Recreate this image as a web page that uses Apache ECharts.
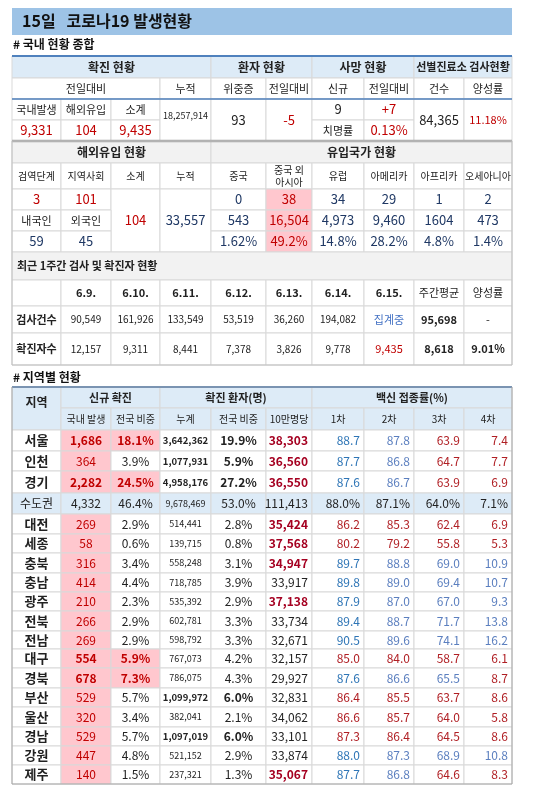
<!DOCTYPE html>
<html>
<head>
<meta charset="utf-8">
<script src="https://cdn.jsdelivr.net/npm/echarts@6/dist/echarts.min.js"></script>
<style>html,body{margin:0;padding:0;background:#fff}#main{width:550px;height:797px}</style>
</head>
<body>
<div id="main"></div>
<script>
// ---- data ----
const titleText = '15일   코로나19 발생현황';
const newCaseLabels = ['국내발생', '해외유입', '소계'];
const newCases = [9331, 104, 9435];
const cumulativeCases = 18257914;
const critical = 93, criticalDiff = -5;
const deathsNew = 9, deathsDiff = 7, fatality = '0.13%';
const testsClinic = 84365, clinicPositive = '11.18%';

const importHeaders = ['검역단계', '지역사회', '소계', '누적'];
const importValues = [3, 101];
const importSubtotal = 104, importCumulative = 33557;
const importResident = [59, 45];
const originHeaders = ['중국', '중국 외\n아시아', '유럽', '아메리카', '아프리카', '오세아니아'];
const originToday = [0, 38, 34, 29, 1, 2];
const originCumulative = ['543', '16,504', '4,973', '9,460', '1604', '473'];
const originShare = ['1.62%', '49.2%', '14.8%', '28.2%', '4.8%', '1.4%'];

const weekDates = ['6.9.', '6.10.', '6.11.', '6.12.', '6.13.', '6.14.', '6.15.'];
const weekTests = [90549, 161926, 133549, 53519, 36260, 194082, null];
const weekCases = [12157, 9311, 8441, 7378, 3826, 9778, 9435];
const weekTestsAvg = 95698, weekCasesAvg = 8618, weekPositive = '9.01%';

const regions = ['서울', '인천', '경기', '수도권', '대전', '세종', '충북', '충남', '광주', '전북', '전남', '대구', '경북', '부산', '울산', '경남', '강원', '제주'];
const regionNew = [1686, 364, 2282, 4332, 269, 58, 316, 414, 210, 266, 269, 554, 678, 529, 320, 529, 447, 140];
const regionShare = [18.1, 3.9, 24.5, 46.4, 2.9, 0.6, 3.4, 4.4, 2.3, 2.9, 2.9, 5.9, 7.3, 5.7, 3.4, 5.7, 4.8, 1.5];
const regionCum = [3642362, 1077931, 4958176, 9678469, 514441, 139715, 558248, 718785, 535392, 602781, 598792, 767073, 786075, 1099972, 382041, 1097019, 521152, 237321];
const regionCumShare = [19.9, 5.9, 27.2, 53.0, 2.8, 0.8, 3.1, 3.9, 2.9, 3.3, 3.3, 4.2, 4.3, 6.0, 2.1, 6.0, 2.9, 1.3];
const per100k = [38303, 36560, 36550, 111413, 35424, 37568, 34947, 33917, 37138, 33734, 32671, 32157, 29927, 32831, 34062, 33101, 33874, 35067];
const vax1 = [88.7, 87.7, 87.6, 88.0, 86.2, 80.2, 89.7, 89.8, 87.9, 89.4, 90.5, 85.0, 87.6, 86.4, 86.6, 87.3, 88.0, 87.7];
const vax2 = [87.8, 86.8, 86.7, 87.1, 85.3, 79.2, 88.8, 89.0, 87.0, 88.7, 89.6, 84.0, 86.6, 85.5, 85.7, 86.4, 87.3, 86.8];
const vax3 = [63.9, 64.7, 63.9, 64.0, 62.4, 55.8, 69.0, 69.4, 67.0, 71.7, 74.1, 58.7, 65.5, 63.7, 64.0, 64.5, 68.9, 64.6];
const vax4 = [7.4, 7.7, 6.9, 7.1, 6.9, 5.3, 10.9, 10.7, 9.3, 13.8, 16.2, 6.1, 8.7, 8.6, 5.8, 8.6, 10.8, 8.3];
const vaxNational = [87.5, 86.5, 65.0, 9.0];
const per100kNational = 34500;
const metroIndex = 3;

// ---- layout ----
const FONT = '"Noto Sans CJK KR", "Noto Sans", sans-serif';
const X = [12, 61, 111, 160, 211, 266, 312, 364, 414, 464, 512];
const RED = '#c00000', NAVY = '#1f3864', BLUE = '#2e75b6', BLUE2 = '#5b7fbf', DARKRED = '#a50021';
const HEAD = '#ddebf7', GRAY = '#f2f2f2', PINK = '#ffc7ce', LINE = '#d9d9d9';
const fmt = v => v.toLocaleString('en-US');
const g = [];

function cell(c0, c1, y0, y1, text, o = {}) {
    const x0 = X[c0], x1 = X[c1];
    g.push({ type: 'rect', shape: { x: x0, y: y0, width: x1 - x0, height: y1 - y0 },
        style: { fill: o.bg || '#fff', stroke: o.stroke || LINE, lineWidth: 1 } });
    if (text === undefined || text === null || text === '') return;
    const align = o.align || 'center';
    const tx = align === 'right' ? x1 - 4 : align === 'left' ? x0 + (o.pad || 8) : (x0 + x1) / 2;
    g.push({ type: 'text', z: 2, style: {
        text: String(text), x: tx, y: (y0 + y1) / 2 + (o.dy || 0), align: align, verticalAlign: 'middle',
        font: `${o.bold ? 'bold ' : ''}${o.size || 12}px ${FONT}`, fill: o.color || '#222', lineHeight: 12 } });
}
function hline(x0, x1, y, color, w) {
    g.push({ type: 'line', z: 3, shape: { x1: x0, y1: y, x2: x1, y2: y }, style: { stroke: color, lineWidth: w } });
}
function label(x, y, text, size, bold) {
    g.push({ type: 'text', style: { text, x, y, verticalAlign: 'middle', font: `${bold ? 'bold ' : ''}${size}px ${FONT}`, fill: '#111' } });
}

// title
g.push({ type: 'rect', shape: { x: 12, y: 8, width: 500, height: 27 }, style: { fill: '#9dc3e6' } });
label(22, 21, titleText, 16, true);
label(13, 44, '# 국내 현황 종합', 12, true);

// section 1
let y = [56, 78, 99, 120, 141];
cell(0, 4, y[0], y[1], '확진 현황', { bg: HEAD, bold: true });
cell(4, 6, y[0], y[1], '환자 현황', { bg: HEAD, bold: true });
cell(6, 8, y[0], y[1], '사망 현황', { bg: HEAD, bold: true });
cell(8, 10, y[0], y[1], '선별진료소 검사현황', { bg: HEAD, bold: true, size: 11 });
cell(0, 3, y[1], y[2], '전일대비', { size: 11 });
['누적', '위중증', '전일대비', '신규', '전일대비', '건수', '양성률'].forEach((t, i) => cell(i + 3, i + 4, y[1], y[2], t, { size: 11 }));
newCaseLabels.forEach((t, i) => cell(i, i + 1, y[2], y[3], t, { size: 11 }));
newCases.forEach((v, i) => cell(i, i + 1, y[3], y[4], fmt(v), { color: RED, size: 13 }));
cell(3, 4, y[2], y[4], fmt(cumulativeCases), { size: 9, dy: -4 });
cell(4, 5, y[2], y[4], critical, { size: 13 });
cell(5, 6, y[2], y[4], criticalDiff, { size: 13, color: RED });
cell(6, 7, y[2], y[3], deathsNew, { size: 13 });
cell(7, 8, y[2], y[3], '+' + deathsDiff, { size: 13, color: RED });
cell(6, 7, y[3], y[4], '치명률', { size: 11 });
cell(7, 8, y[3], y[4], fatality, { size: 13, color: RED });
cell(8, 9, y[2], y[4], fmt(testsClinic), { size: 13 });
cell(9, 10, y[2], y[4], clinicPositive, { size: 11, color: RED });
hline(12, 512, y[0], '#4f81bd', 2);
hline(12, 512, y[2], '#4f81bd', 1.5);

// section 2
y = [141, 163, 189, 210, 231, 252];
cell(0, 4, y[0], y[1], '해외유입 현황', { bg: GRAY, bold: true });
cell(4, 10, y[0], y[1], '유입국가 현황', { bg: GRAY, bold: true });
importHeaders.forEach((t, i) => cell(i, i + 1, y[1], y[2], t, { size: 10 }));
originHeaders.forEach((t, i) => cell(i + 4, i + 5, y[1], y[2], t, { size: 10 }));
importValues.forEach((v, i) => cell(i, i + 1, y[2], y[3], v, { color: RED, size: 13 }));
cell(2, 3, y[2], y[5], importSubtotal, { color: RED, size: 13 });
cell(3, 4, y[2], y[5], fmt(importCumulative), { color: NAVY, size: 13 });
const maxOrigin = originToday.indexOf(Math.max(...originToday));
originToday.forEach((v, i) => {
    const hi = i === maxOrigin;
    const o = { size: 13, color: hi ? RED : NAVY, bg: hi ? PINK : '#fff' };
    cell(i + 4, i + 5, y[2], y[3], v, o);
    cell(i + 4, i + 5, y[3], y[4], originCumulative[i], o);
    cell(i + 4, i + 5, y[4], y[5], originShare[i], o);
});
cell(0, 1, y[3], y[4], '내국인', { size: 11 });
cell(1, 2, y[3], y[4], '외국인', { size: 11 });
importResident.forEach((v, i) => cell(i, i + 1, y[4], y[5], v, { color: NAVY, size: 13 }));
hline(12, 512, y[0], '#a6a6a6', 2.5);

// section 3: weekly
y = [252, 280, 306, 333, 365];
cell(0, 10, y[0], y[1], '최근 1주간 검사 및 확진자 현황', { bg: GRAY, bold: true, align: 'left', size: 11, pad: 5 });
cell(0, 1, y[1], y[2], '');
weekDates.forEach((d, i) => cell(i + 1, i + 2, y[1], y[2], d, { bold: true, size: 11 }));
cell(8, 9, y[1], y[2], '주간평균', { size: 11 });
cell(9, 10, y[1], y[2], '양성률', { size: 11 });
cell(0, 1, y[2], y[3], '검사건수', { bold: true, size: 11 });
cell(0, 1, y[3], y[4], '확진자수', { bold: true, size: 11 });
weekDates.forEach((d, i) => {
    const t = weekTests[i];
    cell(i + 1, i + 2, y[2], y[3], t === null ? '집계중' : fmt(t), t === null ? { color: '#4472c4', size: 11 } : { size: 10 });
    const last = i === weekDates.length - 1;
    cell(i + 1, i + 2, y[3], y[4], fmt(weekCases[i]), last ? { color: RED, size: 11 } : { size: 10 });
});
cell(8, 9, y[2], y[3], fmt(weekTestsAvg), { bold: true, size: 11 });
cell(9, 10, y[2], y[3], '-', { size: 11 });
cell(8, 9, y[3], y[4], fmt(weekCasesAvg), { bold: true, size: 11 });
cell(9, 10, y[3], y[4], weekPositive, { bold: true, size: 11 });
g.push({ type: 'rect', z: 3, shape: { x: 12, y: 141, width: 500, height: 224 }, style: { fill: 'none', stroke: '#bfbfbf', lineWidth: 1 } });

// section 4: regions
label(13, 377, '# 지역별 현황', 12, true);
const RY = [430, 451, 471, 493, 514, 534, 553, 573, 592, 611, 631, 649, 668, 688, 707, 727, 746, 765, 784];
cell(0, 1, 387, 430, '지역', { bg: HEAD, bold: true, dy: -6 });
cell(1, 3, 387, 408, '신규 확진', { bg: HEAD, bold: true, size: 11 });
cell(3, 6, 387, 408, '확진 환자(명)', { bg: HEAD, bold: true, size: 11 });
cell(6, 10, 387, 408, '백신 접종률(%)', { bg: HEAD, bold: true, size: 11 });
['국내 발생', '전국 비중', '누계', '전국 비중', '10만명당', '1차', '2차', '3차', '4차'].forEach((t, i) =>
    cell(i + 1, i + 2, 408, 430, t, { bg: HEAD, size: 10 }));
hline(12, 512, 387, '#4f81bd', 2);
const vax = [vax1, vax2, vax3, vax4];
regions.forEach((r, i) => {
    const y0 = RY[i], y1 = RY[i + 1];
    if (i === metroIndex) {
        const o = { bg: HEAD, size: 12 };
        cell(0, 1, y0, y1, r, o);
        cell(1, 2, y0, y1, fmt(regionNew[i]), o);
        cell(2, 3, y0, y1, regionShare[i].toFixed(1) + '%', o);
        cell(3, 4, y0, y1, fmt(regionCum[i]), { bg: HEAD, size: 9 });
        cell(4, 5, y0, y1, regionCumShare[i].toFixed(1) + '%', o);
        cell(5, 6, y0, y1, fmt(per100k[i]), { bg: HEAD, size: 12, align: 'right' });
        vax.forEach((a, k) => cell(k + 6, k + 7, y0, y1, a[i].toFixed(1) + '%', { bg: HEAD, size: 12, align: 'right' }));
        return;
    }
    const big = regionShare[i] > 5.8;
    const bigCum = regionCum[i] > 1000000;
    cell(0, 1, y0, y1, r, { bold: true, size: 13 });
    cell(1, 2, y0, y1, fmt(regionNew[i]), { bg: PINK, color: RED, bold: big, size: 12 });
    cell(2, 3, y0, y1, regionShare[i].toFixed(1) + '%', { bg: big ? PINK : '#fff', color: big ? RED : '#222', bold: big, size: 12 });
    cell(3, 4, y0, y1, fmt(regionCum[i]), { size: bigCum ? 9.5 : 9, bold: bigCum });
    cell(4, 5, y0, y1, regionCumShare[i].toFixed(1) + '%', { bold: bigCum, size: 12 });
    const hiP = per100k[i] > per100kNational;
    cell(5, 6, y0, y1, fmt(per100k[i]), { bold: hiP, color: hiP ? DARKRED : '#222', size: 12, align: 'right' });
    vax.forEach((a, k) => {
        const above = a[i] >= vaxNational[k];
        cell(k + 6, k + 7, y0, y1, a[i].toFixed(1), { color: above ? (k === 0 ? BLUE : BLUE2) : '#b01f24', size: 12, align: 'right' });
    });
});
g.push({ type: 'rect', z: 3, shape: { x: 12, y: 387, width: 500, height: 397 }, style: { fill: 'none', stroke: '#a6a6a6', lineWidth: 1 } });

const chart = echarts.init(document.getElementById('main'));
chart.setOption({ animation: false, graphic: { elements: g } });
</script>
</body>
</html>
